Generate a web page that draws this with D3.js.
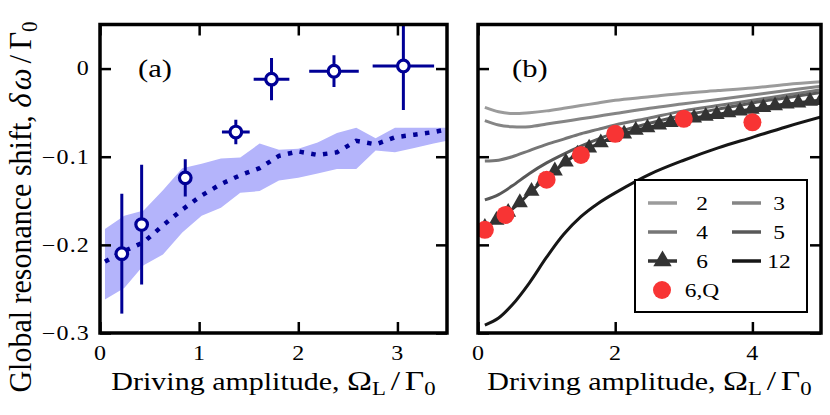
<!DOCTYPE html>
<html>
<head>
<meta charset="utf-8">
<script src="https://cdn.jsdelivr.net/npm/d3@7"></script>
<style>
  body { margin: 0; background: #fff; }
  text { font-family: "Liberation Serif", "Times New Roman", serif; fill: #000; }
</style>
</head>
<body>
<svg id="fig" width="830" height="415"></svg>
<script>
// ---- panel (a): measured points with error bars
var ptX    = [0.22, 0.42, 0.86, 1.37, 1.73, 2.36, 3.06];
var ptY    = [-0.210, -0.177, -0.124, -0.072, -0.012, -0.003, 0.003];
var ptXErr = [0.03, 0.03, 0.04, 0.14, 0.18, 0.25, 0.31];
var ptYErr = [0.068, 0.068, 0.021, 0.014, 0.024, 0.018, 0.050];

// ---- panel (a): simulation mean (dotted) and spread (band)
var simX  = [0.05, 0.245, 0.44, 0.635, 0.83, 1.025, 1.22, 1.415, 1.61, 1.805, 2.0, 2.195, 2.39, 2.585, 2.78, 2.975, 3.17, 3.365, 3.5];
var simY  = [-0.219, -0.207, -0.197, -0.178, -0.160, -0.144, -0.131, -0.121, -0.113, -0.099, -0.094, -0.098, -0.095, -0.082, -0.086, -0.078, -0.075, -0.072, -0.069];
var simHi = [-0.182, -0.167, -0.161, -0.138, -0.113, -0.108, -0.102, -0.101, -0.085, -0.092, -0.091, -0.084, -0.073, -0.067, -0.079, -0.067, -0.067, -0.067, -0.067];
var simLo = [-0.262, -0.249, -0.223, -0.211, -0.186, -0.167, -0.158, -0.141, -0.139, -0.127, -0.124, -0.119, -0.114, -0.114, -0.093, -0.095, -0.090, -0.085, -0.082];

// ---- panel (b): curves for N = 2, 3, 4, 5, 12
var curveX = [0.1, 0.3, 0.5, 0.75, 1.0, 1.25, 1.5, 1.75, 2.0, 2.5, 3.0, 3.5, 4.0, 4.5, 5.0];
var n2  = [-0.044, -0.049, -0.051, -0.050, -0.048, -0.045, -0.042, -0.039, -0.036, -0.032, -0.028, -0.025, -0.022, -0.018, -0.015];
var n3  = [-0.059, -0.064, -0.066, -0.066, -0.063, -0.060, -0.057, -0.054, -0.051, -0.045, -0.040, -0.035, -0.030, -0.025, -0.020];
var n4  = [-0.105, -0.104, -0.100, -0.093, -0.086, -0.080, -0.074, -0.069, -0.064, -0.056, -0.048, -0.042, -0.036, -0.030, -0.024];
var n5  = [-0.149, -0.143, -0.133, -0.119, -0.107, -0.097, -0.088, -0.080, -0.073, -0.062, -0.053, -0.046, -0.039, -0.033, -0.027];
var n12 = [-0.291, -0.283, -0.268, -0.243, -0.214, -0.188, -0.168, -0.153, -0.141, -0.120, -0.104, -0.090, -0.078, -0.066, -0.055];

// N = 6 with triangle markers
var n6X = [0.10, 0.27, 0.44, 0.61, 0.78, 0.95, 1.12, 1.28, 1.45, 1.62, 1.79, 1.96, 2.13, 2.30, 2.47,
           2.64, 2.81, 2.98, 3.15, 3.32, 3.48, 3.65, 3.82, 3.99, 4.16, 4.33, 4.50, 4.67, 4.84, 5.00];
var n6Y = [-0.180, -0.172, -0.163, -0.152, -0.139, -0.127, -0.116, -0.106, -0.097, -0.090, -0.084, -0.078, -0.074, -0.070, -0.067,
           -0.064, -0.061, -0.059, -0.056, -0.054, -0.052, -0.050, -0.048, -0.046, -0.044, -0.042, -0.040, -0.039, -0.037, -0.036];

// N = 6, quantum
var qX = [0.1, 0.4, 1.0, 1.5, 2.0, 3.0, 4.0];
var qY = [-0.183, -0.166, -0.126, -0.098, -0.074, -0.057, -0.061];

// ticks
var yTicks  = [-0.3, -0.2, -0.1, 0];
var xTicksA = [0, 1, 2, 3];
var xTicksB = [0, 2, 4];

var legendLabels = ['2', '3', '4', '5', '6', '12', '6,Q'];

var navy = '#000096';
var SX = 1.2; // lettering in the figure is a bit wide

var svg = d3.select('#fig');

var y  = d3.scaleLinear().domain([-0.3, 0.05]).range([333, 24.5]);
var xA = d3.scaleLinear().domain([0, 3.5]).range([100, 447]);
var xB = d3.scaleLinear().domain([0, 5]).range([478, 821]);

// clip paths for both panels
var defs = svg.append('defs');
[['clipA', xA], ['clipB', xB]].forEach(function(c) {
  defs.append('clipPath').attr('id', c[0]).append('rect')
    .attr('x', c[1].range()[0]).attr('y', y.range()[1])
    .attr('width', c[1].range()[1] - c[1].range()[0])
    .attr('height', y.range()[0] - y.range()[1]);
});

// ================= panel (a)
var gA = svg.append('g').attr('clip-path', 'url(#clipA)');

var band = d3.area()
  .x(function(d, i) { return xA(simX[i]); })
  .y0(function(d, i) { return y(simLo[i]); })
  .y1(function(d, i) { return y(simHi[i]); });
gA.append('path').datum(simX).attr('d', band).attr('fill', '#b4b4fb');

var simLine = d3.line()
  .x(function(d, i) { return xA(simX[i]); })
  .y(function(d, i) { return y(simY[i]); });
gA.append('path').datum(simX).attr('d', simLine)
  .attr('fill', 'none').attr('stroke', navy).attr('stroke-width', 4.5)
  .attr('stroke-dasharray', '4.5,7.4');

var pts = gA.selectAll('g.pt').data(ptX).enter().append('g').attr('class', 'pt');
pts.append('line')
  .attr('x1', function(d) { return xA(d); }).attr('x2', function(d) { return xA(d); })
  .attr('y1', function(d, i) { return y(ptY[i] - ptYErr[i]); })
  .attr('y2', function(d, i) { return y(ptY[i] + ptYErr[i]); })
  .attr('stroke', navy).attr('stroke-width', 3);
pts.append('line')
  .attr('x1', function(d, i) { return xA(d - ptXErr[i]); })
  .attr('x2', function(d, i) { return xA(d + ptXErr[i]); })
  .attr('y1', function(d, i) { return y(ptY[i]); })
  .attr('y2', function(d, i) { return y(ptY[i]); })
  .attr('stroke', navy).attr('stroke-width', 3);
pts.append('circle')
  .attr('cx', function(d) { return xA(d); })
  .attr('cy', function(d, i) { return y(ptY[i]); })
  .attr('r', 5.8).attr('fill', '#fff').attr('stroke', navy).attr('stroke-width', 3.2);

// ================= panel (b)
var gB = svg.append('g').attr('clip-path', 'url(#clipB)');

var smooth = d3.line()
  .x(function(d) { return xB(d[0]); })
  .y(function(d) { return y(d[1]); })
  .curve(d3.curveCatmullRom);

var curves = [[n2, '#9b9b9b'], [n3, '#858585'], [n4, '#767676'], [n5, '#585858'], [n12, '#161616']];
curves.forEach(function(c) {
  gB.append('path').datum(curveX.map(function(x, i) { return [x, c[0][i]]; }))
    .attr('d', smooth).attr('fill', 'none').attr('stroke', c[1]).attr('stroke-width', 3);
});

var n6 = n6X.map(function(x, i) { return [x, n6Y[i]]; });
gB.append('path').datum(n6).attr('d', smooth)
  .attr('fill', 'none').attr('stroke', '#333').attr('stroke-width', 3);
var tri = d3.symbol().type(d3.symbolTriangle).size(110);
gB.selectAll('path.tri').data(n6).enter().append('path').attr('class', 'tri')
  .attr('transform', function(d) { return 'translate(' + xB(d[0]) + ',' + y(d[1]) + ')'; })
  .attr('d', tri).attr('fill', '#333');

gB.selectAll('circle.q').data(qX).enter().append('circle').attr('class', 'q')
  .attr('cx', function(d) { return xB(d); })
  .attr('cy', function(d, i) { return y(qY[i]); })
  .attr('r', 9).attr('fill', '#f83434');

// legend
var lg = svg.append('g');
lg.append('rect').attr('x', 635).attr('y', 180).attr('width', 172).attr('height', 132)
  .attr('fill', '#fff').attr('stroke', '#000').attr('stroke-width', 2);
var legColors = ['#9b9b9b', '#858585', '#767676', '#585858', '#333', '#161616'];
legendLabels.forEach(function(lab, i) {
  var col = i % 2, row = Math.floor(i / 2);
  var lx = col === 0 ? 648 : 732, ly = 203 + row * 29;
  if (i < 6) {
    lg.append('line').attr('x1', lx).attr('x2', lx + 29).attr('y1', ly).attr('y2', ly)
      .attr('stroke', legColors[i]).attr('stroke-width', 3.5);
    if (lab === '6') {
      lg.append('path').attr('d', tri).attr('fill', '#333')
        .attr('transform', 'translate(' + (lx + 14.5) + ',' + ly + ') scale(1.15)');
    }
  } else {
    lg.append('circle').attr('cx', 662).attr('cy', ly).attr('r', 9).attr('fill', '#f83434');
  }
  lg.append('text').attr('transform', 'translate(' + (col === 0 ? 702 : 779) + ',' + (ly + 6.5) + ') scale(' + SX + ',1)')
    .attr('text-anchor', 'middle').attr('font-size', 19.5).text(lab);
});

// ================= axes
function drawAxes(x, xTicks, withYLabels) {
  var x0 = x.range()[0], x1 = x.range()[1];
  var fmtY = function(d) { return d === 0 ? '0' : '\u2212' + d3.format('.1f')(-d); };

  var axes = [
    svg.append('g').attr('transform', 'translate(0,' + y.range()[0] + ')')
      .call(d3.axisBottom(x).tickValues(xTicks).tickSizeInner(-11).tickSizeOuter(0).tickPadding(12.8).tickFormat(d3.format('d'))),
    svg.append('g').attr('transform', 'translate(0,' + y.range()[1] + ')')
      .call(d3.axisTop(x).tickValues(xTicks).tickSizeInner(-11).tickSizeOuter(0).tickFormat('')),
    svg.append('g').attr('transform', 'translate(' + x0 + ',0)')
      .call(d3.axisLeft(y).tickValues(yTicks).tickSizeInner(-11).tickSizeOuter(0).tickPadding(8.3).tickFormat(withYLabels ? fmtY : '')),
    svg.append('g').attr('transform', 'translate(' + x1 + ',0)')
      .call(d3.axisRight(y).tickValues(yTicks).tickSizeInner(-11).tickSizeOuter(0).tickFormat(''))
  ];
  axes.forEach(function(a) {
    a.select('.domain').remove();
    a.selectAll('line').attr('stroke', '#000').attr('stroke-width', 2.5);
    a.selectAll('text').attr('font-size', 20).attr('font-family', '"Liberation Serif", serif')
      .attr('fill', '#000').attr('letter-spacing', 1).attr('transform', 'scale(' + SX + ',1)');
  });

  svg.append('rect').attr('x', x0).attr('y', y.range()[1])
    .attr('width', x1 - x0).attr('height', y.range()[0] - y.range()[1])
    .attr('fill', 'none').attr('stroke', '#000').attr('stroke-width', 3.5);

  // x label
  var t = svg.append('text').attr('font-size', 25).attr('text-anchor', 'middle')
    .attr('transform', 'translate(' + ((x0 + x1) / 2) + ',390) scale(' + SX + ',1)');
  t.append('tspan').text('Driving amplitude, ');
  t.append('tspan').attr('font-size', 28).text('Ω');
  t.append('tspan').attr('font-size', 19).attr('dy', 5).text('L');
  t.append('tspan').attr('font-size', 28).attr('dy', -5).attr('dx', 4).text('/');
  t.append('tspan').attr('font-size', 28).attr('dx', 4).text('Γ');
  t.append('tspan').attr('font-size', 19).attr('dy', 5).text('0');
}

drawAxes(xA, xTicksA, true);
drawAxes(xB, xTicksB, false);

// panel tags
svg.append('text').attr('font-size', 25.5).attr('transform', 'translate(138,77) scale(' + SX + ',1)').text('(a)');
svg.append('text').attr('font-size', 25.5).attr('transform', 'translate(512,77) scale(' + SX + ',1)').text('(b)');

// y label
var yl = svg.append('text').attr('font-size', 30).attr('text-anchor', 'middle')
  .attr('transform', 'translate(31,207) scale(1.05,1) rotate(-90)');
yl.append('tspan').text('Global resonance shift, ');
yl.append('tspan').attr('font-style', 'italic').attr('font-size', 31).text('δ');
yl.append('tspan').attr('font-style', 'italic').attr('font-size', 31).attr('dx', 3).text('ω');
yl.append('tspan').attr('font-size', 31).attr('dx', 5).text('/');
yl.append('tspan').attr('font-size', 31).attr('dx', 5).text('Γ');
yl.append('tspan').attr('font-size', 21).attr('dy', 6).text('0');
</script>
</body>
</html>
